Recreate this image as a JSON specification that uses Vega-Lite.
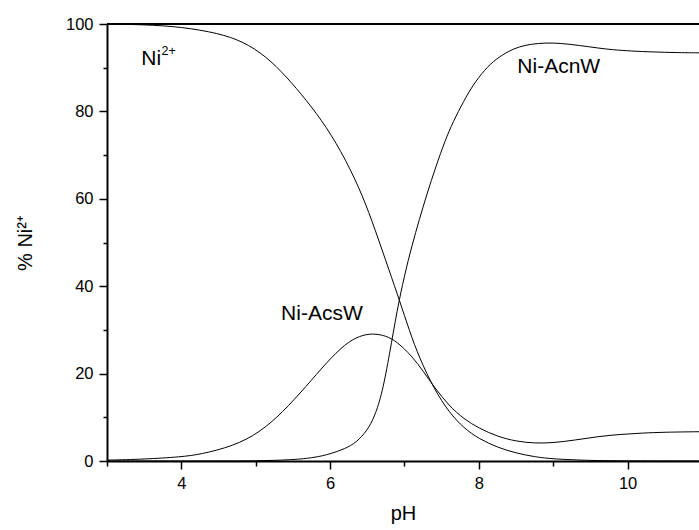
{
  "$schema": "https://vega.github.io/schema/vega-lite/v6.json",
  "width": 592,
  "height": 437,
  "autosize": {"type": "none"},
  "padding": {"left": 107, "top": 24, "right": 0, "bottom": 69},
  "background": "white",
  "config": {
    "view": {"stroke": null},
    "font": "Liberation Sans",
    "axis": {
      "grid": false,
      "domainColor": "black",
      "domainWidth": 2,
      "tickColor": "black",
      "tickWidth": 1.5,
      "labelColor": "black",
      "titleColor": "black",
      "labelFont": "Liberation Sans",
      "titleFont": "Liberation Sans",
      "labelFontSize": 16.5,
      "titleFontSize": 20,
      "titleFontWeight": "normal"
    }
  },
  "layer": [
    {
      "data": {"values": [{"pct": 100}]},
      "mark": {"type": "rule", "color": "black", "strokeWidth": 2},
      "encoding": {"y": {"field": "pct", "type": "quantitative", "scale": {"domain": [0, 100]}}}
    },
    {
      "data": {"values": [
        {"series": "Ni2+", "pH": 3.0, "pct": 100},
        {"series": "Ni2+", "pH": 3.5, "pct": 99.85},
        {"series": "Ni2+", "pH": 4.0, "pct": 99.35},
        {"series": "Ni2+", "pH": 4.5, "pct": 97.9},
        {"series": "Ni2+", "pH": 4.83, "pct": 96.0},
        {"series": "Ni2+", "pH": 5.14, "pct": 92.6},
        {"series": "Ni2+", "pH": 5.41, "pct": 88.0},
        {"series": "Ni2+", "pH": 5.68, "pct": 82.6},
        {"series": "Ni2+", "pH": 5.95, "pct": 76.5},
        {"series": "Ni2+", "pH": 6.21, "pct": 69.0},
        {"series": "Ni2+", "pH": 6.44, "pct": 60.6},
        {"series": "Ni2+", "pH": 6.6, "pct": 53.2},
        {"series": "Ni2+", "pH": 6.8, "pct": 43.3},
        {"series": "Ni2+", "pH": 6.93, "pct": 36.9},
        {"series": "Ni2+", "pH": 7.07, "pct": 29.6},
        {"series": "Ni2+", "pH": 7.2, "pct": 23.6},
        {"series": "Ni2+", "pH": 7.4, "pct": 16.4},
        {"series": "Ni2+", "pH": 7.6, "pct": 11.1},
        {"series": "Ni2+", "pH": 7.8, "pct": 7.5},
        {"series": "Ni2+", "pH": 8.0, "pct": 5.1},
        {"series": "Ni2+", "pH": 8.25, "pct": 3.1},
        {"series": "Ni2+", "pH": 8.5, "pct": 1.8},
        {"series": "Ni2+", "pH": 8.75, "pct": 0.95},
        {"series": "Ni2+", "pH": 9.0, "pct": 0.45},
        {"series": "Ni2+", "pH": 9.5, "pct": 0.1},
        {"series": "Ni2+", "pH": 10.0, "pct": 0.02},
        {"series": "Ni2+", "pH": 10.96, "pct": 0},
        {"series": "Ni-AcsW", "pH": 3.0, "pct": 0.2},
        {"series": "Ni-AcsW", "pH": 3.5, "pct": 0.4},
        {"series": "Ni-AcsW", "pH": 4.0, "pct": 0.95},
        {"series": "Ni-AcsW", "pH": 4.25, "pct": 1.5},
        {"series": "Ni-AcsW", "pH": 4.7, "pct": 3.4},
        {"series": "Ni-AcsW", "pH": 5.05, "pct": 6.5},
        {"series": "Ni-AcsW", "pH": 5.36, "pct": 11.1},
        {"series": "Ni-AcsW", "pH": 5.68, "pct": 17.1},
        {"series": "Ni-AcsW", "pH": 5.95, "pct": 22.5},
        {"series": "Ni-AcsW", "pH": 6.2, "pct": 26.8},
        {"series": "Ni-AcsW", "pH": 6.4, "pct": 28.7},
        {"series": "Ni-AcsW", "pH": 6.57, "pct": 29.2},
        {"series": "Ni-AcsW", "pH": 6.75, "pct": 28.7},
        {"series": "Ni-AcsW", "pH": 6.9, "pct": 27.3},
        {"series": "Ni-AcsW", "pH": 7.1, "pct": 24.0},
        {"series": "Ni-AcsW", "pH": 7.25, "pct": 20.6},
        {"series": "Ni-AcsW", "pH": 7.4, "pct": 16.9},
        {"series": "Ni-AcsW", "pH": 7.6, "pct": 12.6},
        {"series": "Ni-AcsW", "pH": 7.8, "pct": 9.6},
        {"series": "Ni-AcsW", "pH": 8.0, "pct": 7.5},
        {"series": "Ni-AcsW", "pH": 8.25, "pct": 5.6},
        {"series": "Ni-AcsW", "pH": 8.5, "pct": 4.5},
        {"series": "Ni-AcsW", "pH": 8.75, "pct": 4.05},
        {"series": "Ni-AcsW", "pH": 9.0, "pct": 4.15},
        {"series": "Ni-AcsW", "pH": 9.3, "pct": 4.8},
        {"series": "Ni-AcsW", "pH": 9.6, "pct": 5.6},
        {"series": "Ni-AcsW", "pH": 9.9, "pct": 6.1},
        {"series": "Ni-AcsW", "pH": 10.2, "pct": 6.4},
        {"series": "Ni-AcsW", "pH": 10.5, "pct": 6.6},
        {"series": "Ni-AcsW", "pH": 10.96, "pct": 6.7},
        {"series": "Ni-AcnW", "pH": 3.0, "pct": 0},
        {"series": "Ni-AcnW", "pH": 4.5, "pct": 0},
        {"series": "Ni-AcnW", "pH": 5.0, "pct": 0.03},
        {"series": "Ni-AcnW", "pH": 5.5, "pct": 0.25},
        {"series": "Ni-AcnW", "pH": 5.8, "pct": 0.8},
        {"series": "Ni-AcnW", "pH": 6.0, "pct": 1.6},
        {"series": "Ni-AcnW", "pH": 6.2, "pct": 2.8},
        {"series": "Ni-AcnW", "pH": 6.35, "pct": 4.2},
        {"series": "Ni-AcnW", "pH": 6.5, "pct": 7.0},
        {"series": "Ni-AcnW", "pH": 6.6, "pct": 10.2},
        {"series": "Ni-AcnW", "pH": 6.7, "pct": 15.5},
        {"series": "Ni-AcnW", "pH": 6.8, "pct": 24.5},
        {"series": "Ni-AcnW", "pH": 6.9, "pct": 34.5},
        {"series": "Ni-AcnW", "pH": 7.0, "pct": 42.5},
        {"series": "Ni-AcnW", "pH": 7.1, "pct": 49.3},
        {"series": "Ni-AcnW", "pH": 7.2, "pct": 55.3},
        {"series": "Ni-AcnW", "pH": 7.3, "pct": 61.0},
        {"series": "Ni-AcnW", "pH": 7.42, "pct": 67.3},
        {"series": "Ni-AcnW", "pH": 7.55, "pct": 73.5},
        {"series": "Ni-AcnW", "pH": 7.65, "pct": 77.5},
        {"series": "Ni-AcnW", "pH": 7.8, "pct": 82.5},
        {"series": "Ni-AcnW", "pH": 7.92, "pct": 86.0},
        {"series": "Ni-AcnW", "pH": 8.08, "pct": 89.6},
        {"series": "Ni-AcnW", "pH": 8.23, "pct": 92.0},
        {"series": "Ni-AcnW", "pH": 8.4, "pct": 93.8},
        {"series": "Ni-AcnW", "pH": 8.54, "pct": 94.8},
        {"series": "Ni-AcnW", "pH": 8.7, "pct": 95.4},
        {"series": "Ni-AcnW", "pH": 8.9, "pct": 95.7},
        {"series": "Ni-AcnW", "pH": 9.1, "pct": 95.6},
        {"series": "Ni-AcnW", "pH": 9.35, "pct": 95.1},
        {"series": "Ni-AcnW", "pH": 9.6, "pct": 94.5},
        {"series": "Ni-AcnW", "pH": 9.8, "pct": 94.1},
        {"series": "Ni-AcnW", "pH": 10.05, "pct": 93.8},
        {"series": "Ni-AcnW", "pH": 10.34, "pct": 93.6},
        {"series": "Ni-AcnW", "pH": 10.65, "pct": 93.45},
        {"series": "Ni-AcnW", "pH": 10.96, "pct": 93.4}
      ]},
      "mark": {"type": "line", "color": "black", "strokeWidth": 1, "interpolate": "basis", "clip": true},
      "encoding": {
        "x": {
          "field": "pH", "type": "quantitative",
          "scale": {"domain": [3, 10.96], "nice": false, "zero": false},
          "axis": {
            "title": "pH",
            "format": "d",
            "values": [3, 4, 5, 6, 7, 8, 9, 10],
            "labelExpr": "datum.value % 2 === 0 ? datum.label : ''",
            "tickSize": {"condition": {"test": "datum.value % 2 === 0", "value": 8}, "value": 5},
            "labelPadding": 6,
            "titlePadding": 12
          }
        },
        "y": {
          "field": "pct", "type": "quantitative",
          "scale": {"domain": [0, 100], "nice": false},
          "axis": {
            "title": "% Ni²⁺",
            "format": "d",
            "values": [0, 10, 20, 30, 40, 50, 60, 70, 80, 90, 100],
            "labelExpr": "datum.value % 20 === 0 ? datum.label : ''",
            "tickSize": {"condition": {"test": "datum.value % 20 === 0", "value": 8}, "value": 4},
            "labelPadding": 6,
            "titlePadding": 30
          }
        },
        "detail": {"field": "series", "type": "nominal"}
      }
    },
    {
      "data": {"values": [
        {"label": "Ni", "pH": 3.46, "pct": 90.6},
        {"label": "Ni-AcnW", "pH": 8.517, "pct": 88.7},
        {"label": "Ni-AcsW", "pH": 5.341, "pct": 32.2}
      ]},
      "mark": {"type": "text", "align": "left", "baseline": "alphabetic", "fontSize": 21, "color": "black", "font": "Liberation Sans"},
      "encoding": {
        "x": {"field": "pH", "type": "quantitative"},
        "y": {"field": "pct", "type": "quantitative"},
        "text": {"field": "label"}
      }
    },
    {
      "data": {"values": [
        {"label": "2+", "pH": 3.733, "pct": 92.9}
      ]},
      "mark": {"type": "text", "align": "left", "baseline": "alphabetic", "fontSize": 12.5, "color": "black", "font": "Liberation Sans"},
      "encoding": {
        "x": {"field": "pH", "type": "quantitative"},
        "y": {"field": "pct", "type": "quantitative"},
        "text": {"field": "label"}
      }
    }
  ]
}
